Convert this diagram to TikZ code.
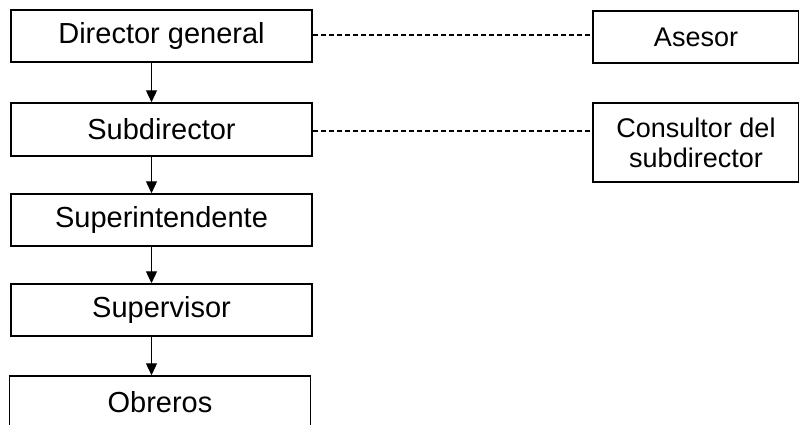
\documentclass[tikz,border=0pt]{standalone}
\usepackage{fontspec}
\setmainfont{Liberation Sans}
\usetikzlibrary{arrows.meta}
\begin{document}
\begin{tikzpicture}[x=1pt,y=-1pt,
  box/.style={draw, line width=1.5pt, rectangle, inner sep=0pt,
    minimum width=301pt, font=\fontsize{29}{33}\selectfont},
  sidebox/.style={draw, line width=1.5pt, rectangle, inner sep=0pt,
    minimum width=206pt, align=center, font=\fontsize{27}{30}\selectfont},
  down/.style={line width=1.3pt, -{Triangle[length=12pt,width=11pt]}},
  link/.style={line width=1.4pt, dash pattern=on 5pt off 3pt}]
  \useasboundingbox (0,0) rectangle (799,424);
  \begin{scope}
    \clip (0,0) rectangle (799,424);
    % main chain of command
    \node[box, minimum height=52pt] (dir) at (161.5,36) {Director general};
    \node[box, minimum height=53pt] (sub) at (161.5,129.5) {Subdirector};
    \node[box, minimum height=52pt] (sup) at (161.5,220) {Superintendente};
    \node[box, minimum height=52pt] (svr) at (161.5,310) {Supervisor};
    \node[box, minimum height=52pt] (obr) at (160,402) {Obreros};
    % staff positions
    \node[sidebox, minimum height=52pt] (ase) at (696,37) {Asesor};
    \node[sidebox, minimum height=79pt] (con) at (696,142.5) {Consultor del\\subdirector};
    % reporting lines
    \draw[down] ([xshift=-10pt]dir.south) -- ([xshift=-10pt]dir.south |- sub.north);
    \draw[down] ([xshift=-10pt]sub.south) -- ([xshift=-10pt]sub.south |- sup.north);
    \draw[down] ([xshift=-10pt]sup.south) -- ([xshift=-10pt]sup.south |- svr.north);
    \draw[down] ([xshift=-10pt]svr.south) -- ([xshift=-10pt]svr.south |- obr.north);
    % advisory links
    \draw[link] ([yshift=1pt]dir.east) -- ([yshift=1pt]dir.east -| ase.west);
    \draw[link] ([yshift=-1.5pt]sub.east) -- ([yshift=-1.5pt]sub.east -| con.west);
  \end{scope}
\end{tikzpicture}
\end{document}
